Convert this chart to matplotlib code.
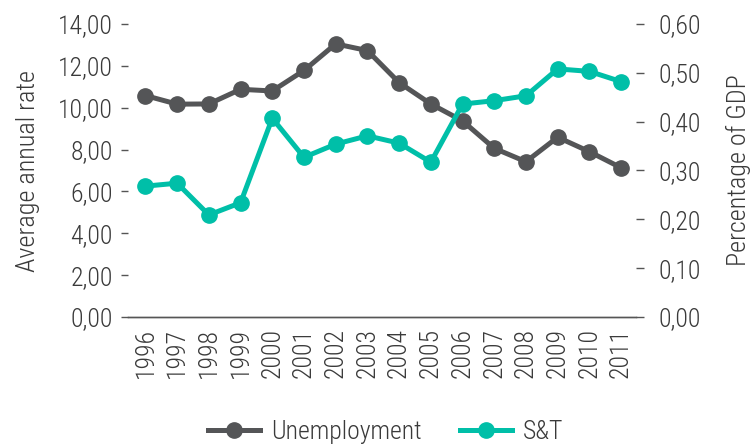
import matplotlib
matplotlib.use("Agg")
import matplotlib.pyplot as plt
from matplotlib import font_manager

years = [1996, 1997, 1998, 1999, 2000, 2001, 2002, 2003, 2004, 2005, 2006, 2007, 2008, 2009, 2010, 2011]
unemployment = [10.58, 10.17, 10.18, 10.88, 10.80, 11.78, 13.05, 12.73, 11.20, 10.18, 9.37, 8.06, 7.42, 8.59, 7.90, 7.13]
st = [0.268, 0.274, 0.209, 0.234, 0.407, 0.327, 0.354, 0.371, 0.356, 0.317, 0.436, 0.443, 0.453, 0.508, 0.503, 0.482]
left_ticks = [0, 2, 4, 6, 8, 10, 12, 14]
right_ticks = [0, 0.1, 0.2, 0.3, 0.4, 0.5, 0.6]

# choose a condensed font if one is available
entries = font_manager.fontManager.ttflist
cond_stretches = {'condensed', 'semi-condensed', 'extra-condensed', 'ultra-condensed', 100, 200, 300, 400}

def is_cond(e):
    return ('Condensed' in e.name or 'Narrow' in e.name or e.stretch in cond_stretches) and 'CJK' not in e.name

def rank(e):
    nm = e.name
    fam_rank = 0 if 'Roboto' in nm else 1 if 'Open Sans' in nm else 2 if 'Liberation' in nm else 4 if 'DejaVu' in nm else 3
    w = e.weight if isinstance(e.weight, int) else 400
    return (fam_rank, abs(w - 300) if fam_rank < 4 else abs(w - 400), 0 if e.style == 'normal' else 1)

cands = sorted([e for e in entries if is_cond(e) and e.style == 'normal'], key=rank)
if cands:
    best = cands[0]
    fp_kwargs = dict(fname=best.fname)
else:
    fp_kwargs = dict(family='DejaVu Sans', stretch='condensed')

def fp(size):
    return font_manager.FontProperties(size=size, **fp_kwargs)

dark = "#545557"
teal = "#00BFA8"
txt = "#3a3a3a"

fig = plt.figure(figsize=(7.51, 4.45), dpi=100)
ax = fig.add_axes([128/751, 1-317/445, (636-128)/751, (317-24)/445])
ax2 = ax.twinx()

ax.plot(years, unemployment, color=dark, lw=3.6, marker='o', ms=11, label='Unemployment', zorder=3)
ax2.plot(years, st, color=teal, lw=3.6, marker='o', ms=11, label='S&T', zorder=3)

ax.set_xlim(1995.45, 2011.47)
ax.set_ylim(0, 14)
ax2.set_ylim(0, 0.6)
ax.set_yticks(left_ticks)
ax.set_yticklabels([f"{v:.2f}".replace('.', ',') for v in left_ticks], fontproperties=fp(18.5), color=txt)
ax2.set_yticks(right_ticks)
ax2.set_yticklabels([f"{v:.2f}".replace('.', ',') for v in right_ticks], fontproperties=fp(18.5), color=txt)
ax.set_xticks(years)
ax.set_xticklabels([str(y) for y in years], rotation=90, fontproperties=fp(18.5), color=txt)

for a in (ax, ax2):
    for s in ('top', 'left', 'right'):
        a.spines[s].set_visible(False)
    a.spines['bottom'].set_color('#555555')
    a.spines['bottom'].set_linewidth(1.0)

ax.tick_params(axis='y', length=5, width=1, color='#555555', pad=6)
ax2.tick_params(axis='y', length=6, width=1, color='#555555', pad=10)
ax.tick_params(axis='x', length=0, pad=8)

ax.set_ylabel('Average annual rate', fontproperties=fp(18.8), color=txt, labelpad=13)
ax2.set_ylabel('Percentage of GDP', fontproperties=fp(18.8), color=txt, labelpad=18)

h1, l1 = ax.get_legend_handles_labels()
h2, l2 = ax2.get_legend_handles_labels()
leg = fig.legend(h1 + h2, l1 + l2, loc='center', bbox_to_anchor=(386/751, 1-432/445), ncol=2,
                 frameon=False, prop=fp(18.5), handlelength=2.0, columnspacing=1.5,
                 handletextpad=0.45)
for t in leg.get_texts():
    t.set_color(txt)

fig.savefig("out.png", dpi=100)
